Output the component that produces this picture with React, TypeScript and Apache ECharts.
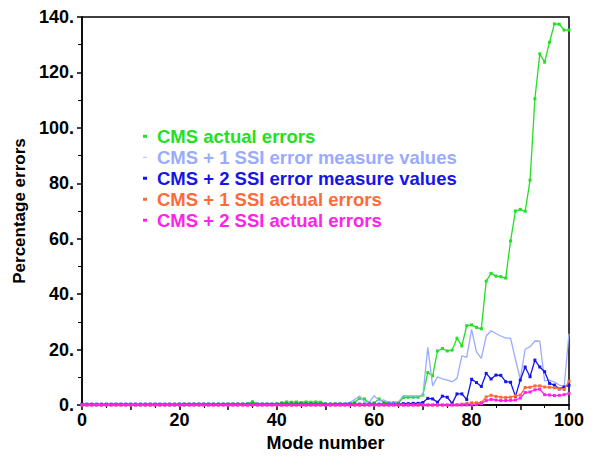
import React, { useEffect, useRef } from "react";
import * as echarts from "echarts";

// Mode numbers 0..100 (index axis)
const modes: number[] = Array.from({ length: 101 }, (_, i) => i);

const seriesNames = [
  "CMS actual errors",
  "CMS + 1 SSI error measure values",
  "CMS + 2 SSI error measure values",
  "CMS + 1 SSI actual errors",
  "CMS + 2 SSI actual errors",
];

const cmsActual = [
  0.1, 0.1, 0.1, 0.1, 0.1, 0.1, 0.1, 0.1, 0.1, 0.1,
  0.1, 0.1, 0.1, 0.1, 0.1, 0.1, 0.1, 0.1, 0.1, 0.1,
  0.3, 0.3, 0.3, 0.3, 0.3, 0.3, 0.3, 0.3, 0.3, 0.3,
  0.3, 0.3, 0.3, 0.3, 0.4, 1.2, 0.3, 0.3, 0.3, 0.3,
  0.4, 0.8, 1.1, 1.0, 1.1, 0.9, 1.1, 1.0, 1.1, 1.0,
  0.4, 0.3, 0.4, 0.4, 0.3, 0.5, 1.0, 2.4, 2.2, 0.7,
  0.8, 2.2, 0.9, 0.8, 0.8, 0.8, 2.7, 2.8, 2.8, 2.8,
  3.6, 11.7, 10.5, 19.5, 20.4, 19.5, 19.8, 24.1, 21.3, 28.6,
  28.9, 28.0, 27.5, 44.7, 47.5, 46.5, 46.3, 45.8, 59.2, 70.0,
  70.6, 69.9, 81.1, 110.5, 126.7, 123.7, 130.9, 137.5, 137.4, 135.3,
  135.3,
];

const ssi1Measure = [
  0.1, 0.1, 0.1, 0.1, 0.1, 0.1, 0.1, 0.1, 0.1, 0.1,
  0.1, 0.1, 0.1, 0.1, 0.1, 0.1, 0.1, 0.1, 0.1, 0.1,
  0.1, 0.1, 0.1, 0.1, 0.1, 0.1, 0.1, 0.1, 0.1, 0.1,
  0.1, 0.1, 0.1, 0.1, 0.1, 0.1, 0.1, 0.1, 0.1, 0.1,
  0.1, 0.5, 0.5, 0.5, 0.5, 0.5, 0.5, 0.5, 0.5, 0.5,
  0.4, 0.4, 0.5, 0.4, 0.5, 1.0, 2.0, 3.2, 1.2, 1.0,
  3.4, 1.5, 1.8, 1.0, 1.0, 1.2, 3.4, 3.3, 3.3, 3.3,
  3.4, 20.8, 6.9, 10.2, 9.4, 9.0, 8.4, 9.6, 17.7, 17.2,
  27.3, 19.2, 16.8, 24.9, 26.8, 25.8, 24.9, 24.1, 24.1, 16.5,
  9.3, 20.2, 21.0, 23.1, 23.0, 8.7, 9.0, 8.3, 7.2, 6.6,
  25.8,
];

const ssi2Measure = [
  0.3, 0.3, 0.3, 0.3, 0.3, 0.3, 0.3, 0.3, 0.3, 0.3,
  0.3, 0.3, 0.3, 0.3, 0.3, 0.3, 0.3, 0.3, 0.3, 0.3,
  0.3, 0.3, 0.3, 0.3, 0.3, 0.3, 0.3, 0.3, 0.3, 0.3,
  0.3, 0.3, 0.3, 0.3, 0.3, 0.3, 0.3, 0.3, 0.3, 0.3,
  0.3, 0.3, 0.3, 0.3, 0.3, 0.3, 0.3, 0.3, 0.3, 0.3,
  0.3, 0.3, 0.3, 0.3, 0.3, 0.3, 0.3, 0.3, 0.3, 0.3,
  0.3, 0.3, 0.3, 0.3, 0.3, 0.3, 0.5, 0.5, 0.6, 0.6,
  0.9, 2.4, 2.2, 1.0, 3.2, 2.8, 0.6, 4.0, 4.0, 2.0,
  9.3, 8.1, 6.7, 11.4, 9.4, 10.8, 10.7, 8.4, 8.2, 3.1,
  9.0, 13.7, 10.2, 16.2, 13.7, 12.0, 7.8, 7.2, 5.8, 6.5,
  7.1,
];

const ssi1Actual = [
  0, 0, 0, 0, 0, 0, 0, 0, 0, 0,
  0, 0, 0, 0, 0, 0, 0, 0, 0, 0,
  0, 0, 0, 0, 0, 0, 0, 0, 0, 0,
  0, 0, 0, 0, 0, 0, 0, 0, 0, 0,
  0, 0, 0, 0, 0, 0, 0, 0, 0, 0,
  0, 0, 0, 0, 0, 0, 0, 0, 0, 0,
  0, 0, 0, 0, 0, 0, 0, 0, 0, 0,
  0, 0, 0, 0, 0, 0, 0, 0.1, 0.3, 0.6,
  0.8, 0.8, 0.9, 2.9, 3.5, 3.1, 2.8, 2.7, 2.8, 3.3,
  3.6, 6.3, 6.4, 6.9, 6.9, 6.5, 6.4, 6.2, 5.9, 5.6,
  8.6,
];

const ssi2Actual = [
  0, 0, 0, 0, 0, 0, 0, 0, 0, 0,
  0, 0, 0, 0, 0, 0, 0, 0, 0, 0,
  0, 0, 0, 0, 0, 0, 0, 0, 0, 0,
  0, 0, 0, 0, 0, 0, 0, 0, 0, 0,
  0, 0, 0, 0, 0, 0, 0, 0, 0, 0,
  0, 0, 0, 0, 0, 0, 0, 0, 0, 0,
  0, 0, 0, 0, 0, 0, 0, 0, 0, 0,
  0, 0, 0, 0, 0, 0, 0, 0, 0, 0,
  0, 0.2, 0.5, 1.6, 2.0, 1.8, 1.6, 1.6, 1.7, 1.8,
  2.5, 4.5, 4.7, 5.5, 5.7, 3.7, 3.6, 3.4, 3.5, 3.7,
  4.2,
];

const seriesValues = [cmsActual, ssi1Measure, ssi2Measure, ssi1Actual, ssi2Actual];
const seriesColors = ["#22e022", "#9aabff", "#1515ea", "#ff6a3a", "#ff22ea"];
const seriesHasMarker = [true, false, true, true, true];

const FONT = "'Liberation Sans', Arial, Helvetica, sans-serif";

export default function App() {
  const ref = useRef<HTMLDivElement>(null);

  useEffect(() => {
    if (!ref.current) return;
    const chart = echarts.init(ref.current, null, { renderer: "svg" });

    const series = seriesNames.map((name, k) => ({
      name,
      type: "line" as const,
      data: modes.map((m, i) => [m, seriesValues[k][i]]),
      showSymbol: seriesHasMarker[k],
      symbol: seriesHasMarker[k] ? "rect" : "none",
      symbolSize: 3,
      lineStyle: { color: seriesColors[k], width: 1.3 },
      itemStyle: { color: seriesColors[k] },
      emphasis: { disabled: true },
      z: 2 + k,
    }));

    chart.setOption({
      animation: false,
      backgroundColor: "#ffffff",
      grid: {
        left: 82,
        right: 24,
        top: 17,
        bottom: 55,
        show: true,
        borderColor: "#000",
        borderWidth: 1.5,
        backgroundColor: "transparent",
      },
      legend: {
        orient: "vertical",
        left: 143,
        top: 126,
        padding: 0,
        itemGap: 0.5,
        itemWidth: 4,
        itemHeight: 3,
        selectedMode: false,
        textStyle: {
          fontFamily: FONT,
          fontWeight: "bold",
          fontSize: 18.5,
          lineHeight: 20.5,
          padding: [0, 0, 0, 5],
        },
        data: seriesNames.map((name, k) => ({
          name,
          icon: seriesHasMarker[k]
            ? "rect"
            : "path://M0,0M0,1.1h4v0.8h-4zM4,3",
          itemStyle: { color: seriesColors[k] },
          textStyle: { color: seriesColors[k] },
        })),
      },
      xAxis: {
        type: "value",
        min: 0,
        max: 100,
        interval: 10,
        name: "Mode number",
        nameLocation: "middle",
        nameGap: 28,
        nameTextStyle: {
          fontFamily: FONT,
          fontWeight: "bold",
          fontSize: 18,
          color: "#000",
        },
        axisLine: { show: true, onZero: false, lineStyle: { color: "#000", width: 1.5 } },
        axisTick: { show: true, inside: false, length: 5, lineStyle: { color: "#000", width: 1.5 } },
        minorTick: { show: true, splitNumber: 2, length: 3, lineStyle: { color: "#000", width: 1 } },
        splitLine: { show: false },
        minorSplitLine: { show: false },
        axisLabel: {
          margin: 6,
          fontFamily: FONT,
          fontWeight: "bold",
          fontSize: 18,
          color: "#000",
          formatter: (v: number) => (v % 20 === 0 ? String(v) : ""),
        },
      },
      yAxis: {
        type: "value",
        min: 0,
        max: 140,
        interval: 20,
        name: "Percentage errors",
        nameLocation: "middle",
        nameGap: 52,
        nameTextStyle: {
          fontFamily: FONT,
          fontWeight: "bold",
          fontSize: 17,
          color: "#000",
        },
        axisLine: { show: true, onZero: false, lineStyle: { color: "#000", width: 1.5 } },
        axisTick: { show: true, inside: false, length: 5, lineStyle: { color: "#000", width: 1.5 } },
        minorTick: { show: true, splitNumber: 2, length: 4, lineStyle: { color: "#000", width: 1 } },
        splitLine: { show: false },
        minorSplitLine: { show: false },
        axisLabel: {
          margin: 8,
          fontFamily: FONT,
          fontWeight: "bold",
          fontSize: 18,
          color: "#000",
          formatter: (v: number) => `${v}.`,
        },
      },
      series,
    });

    return () => {
      chart.dispose();
    };
  }, []);

  return <div ref={ref} style={{ width: 593, height: 460, position: "absolute", left: 0, top: 0 }} />;
}
